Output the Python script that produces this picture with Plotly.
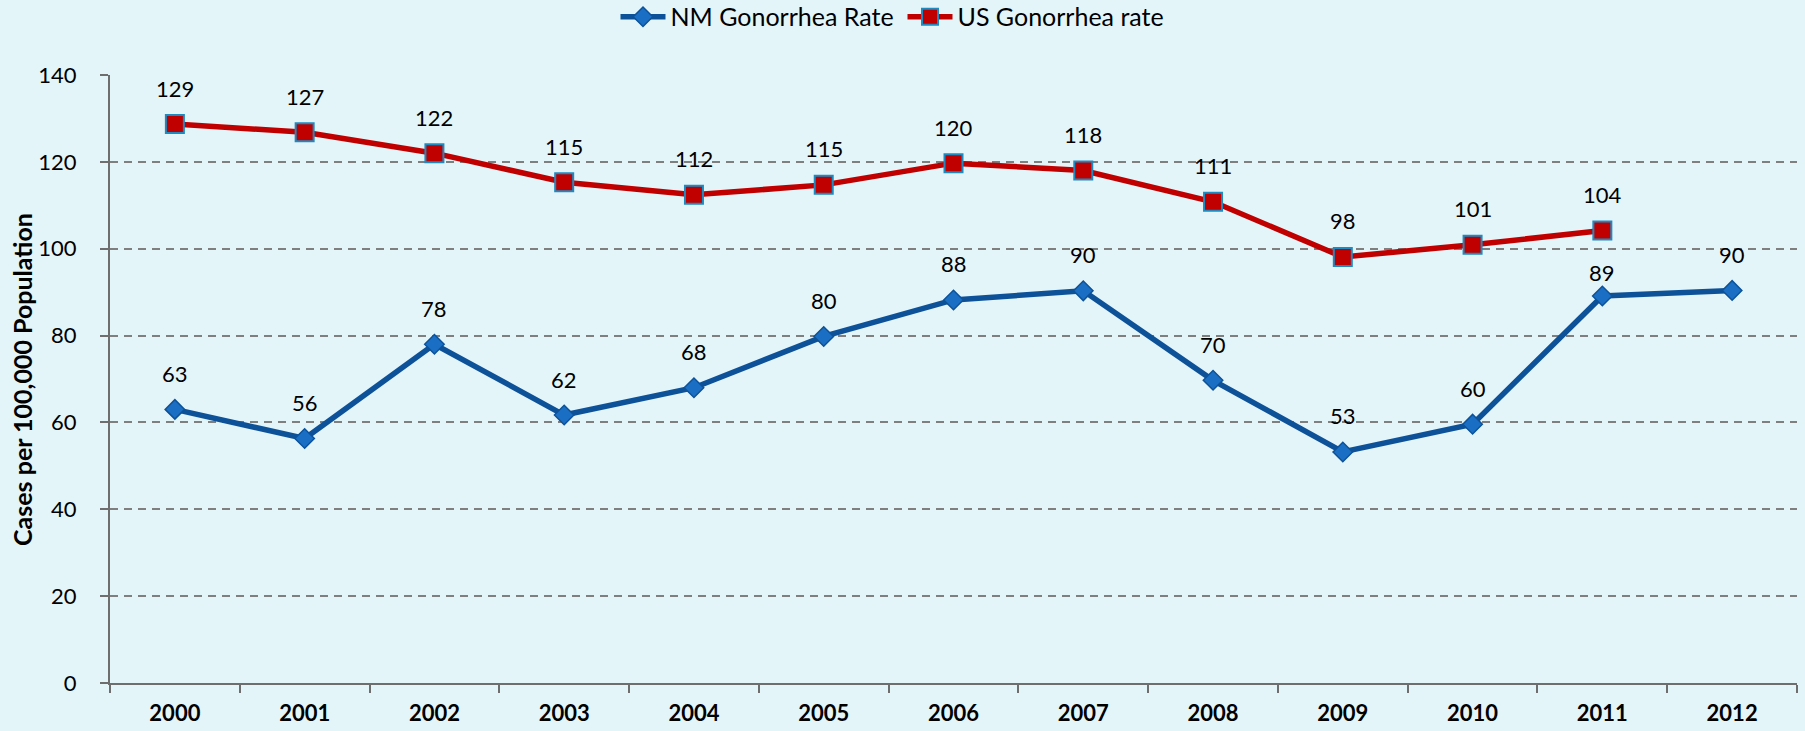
import plotly.graph_objects as go

years = ["2000", "2001", "2002", "2003", "2004", "2005", "2006",
         "2007", "2008", "2009", "2010", "2011", "2012"]
nm_rate = [63.0, 56.3, 78.0, 61.7, 68.0, 79.8, 88.2, 90.3, 69.7, 53.2, 59.6, 89.1, 90.4]
us_rate = [128.7, 126.8, 122.0, 115.3, 112.4, 114.7, 119.7, 118.0, 110.8, 98.1, 100.9, 104.2, None]
nm_label_shift = [36, 36, 36, 36, 36, 36, 36, 36, 36, 36, 36, 24, 36]
us_label_shift = [36] * 13
y_title = "Cases per 100,000 Population"

FONT = "Lato"
BG = "#E4F5F9"
NM_LINE = "#0D5298"
NM_FILL = "#1A6FC4"
US_LINE = "#C00000"
US_EDGE = "#1F8AC0"

fig = go.Figure()
fig.add_trace(go.Scatter(
    x=years, y=nm_rate, name="NM Gonorrhea Rate", mode="lines+markers",
    line=dict(color=NM_LINE, width=5.5),
    marker=dict(symbol="diamond", size=15, color=NM_FILL,
                line=dict(color=NM_LINE, width=1.5)),
))
fig.add_trace(go.Scatter(
    x=years, y=us_rate, name="US Gonorrhea rate", mode="lines+markers",
    line=dict(color=US_LINE, width=5.5),
    marker=dict(symbol="square", size=18, color=US_LINE,
                line=dict(color=US_EDGE, width=2)),
))

annotations = []
for i, (y, s) in enumerate(zip(nm_rate, nm_label_shift)):
    annotations.append(dict(x=i, y=y, xref="x", yref="y", text=f"{y:.0f}",
                            showarrow=False, yshift=s,
                            font=dict(family=FONT, size=22, color="#000")))
for i, (y, s) in enumerate(zip(us_rate, us_label_shift)):
    if y is None:
        continue
    annotations.append(dict(x=i, y=y, xref="x", yref="y", text=f"{y:.0f}",
                            showarrow=False, yshift=s,
                            font=dict(family=FONT, size=22, color="#000")))
annotations.append(dict(x=-0.0522, y=0.5, xref="paper", yref="paper",
                        text=f"<b>{y_title}</b>", textangle=-90, showarrow=False,
                        xanchor="center", yanchor="middle",
                        font=dict(family=FONT, size=25, color="#000")))

fig.update_layout(
    width=1805, height=731,
    paper_bgcolor=BG, plot_bgcolor=BG,
    margin=dict(l=110, r=8, t=75, b=48, autoexpand=False),
    font=dict(family=FONT, size=22, color="#000"),
    showlegend=True,
    legend=dict(orientation="h", x=0.5, xanchor="center", xref="container",
                y=1.0954, yanchor="middle", yref="paper",
                font=dict(family=FONT, size=25), itemwidth=45,
                entrywidth=227, bgcolor="rgba(0,0,0,0)"),
    annotations=annotations,
    xaxis=dict(type="category", range=[-0.5, len(years) - 0.5], tickson="boundaries",
               ticks="outside", ticklen=8, tickangle=0, automargin=False,
               tickwidth=2, tickcolor="#6E6E6E", showline=True, linecolor="#6E6E6E",
               linewidth=2, showgrid=False,
               tickfont=dict(family=FONT, size=22, color="#000", weight="bold"),
               ticklabelstandoff=10),
    yaxis=dict(range=[0, 140], dtick=20, ticks="outside", ticklen=8, tickwidth=2,
               automargin=False,
               tickcolor="#6E6E6E", showline=True, linecolor="#6E6E6E", linewidth=2,
               showgrid=True, gridcolor="#7F7F7F", gridwidth=2, griddash="8px,6px",
               zeroline=False, tickfont=dict(family=FONT, size=22, color="#000"),
               ticklabelstandoff=19),
)

fig.write_html(
    "out.html",
    config={"displayModeBar": False},
    post_script="document.body.style.margin='0';document.body.style.background='" + BG + "';",
)
